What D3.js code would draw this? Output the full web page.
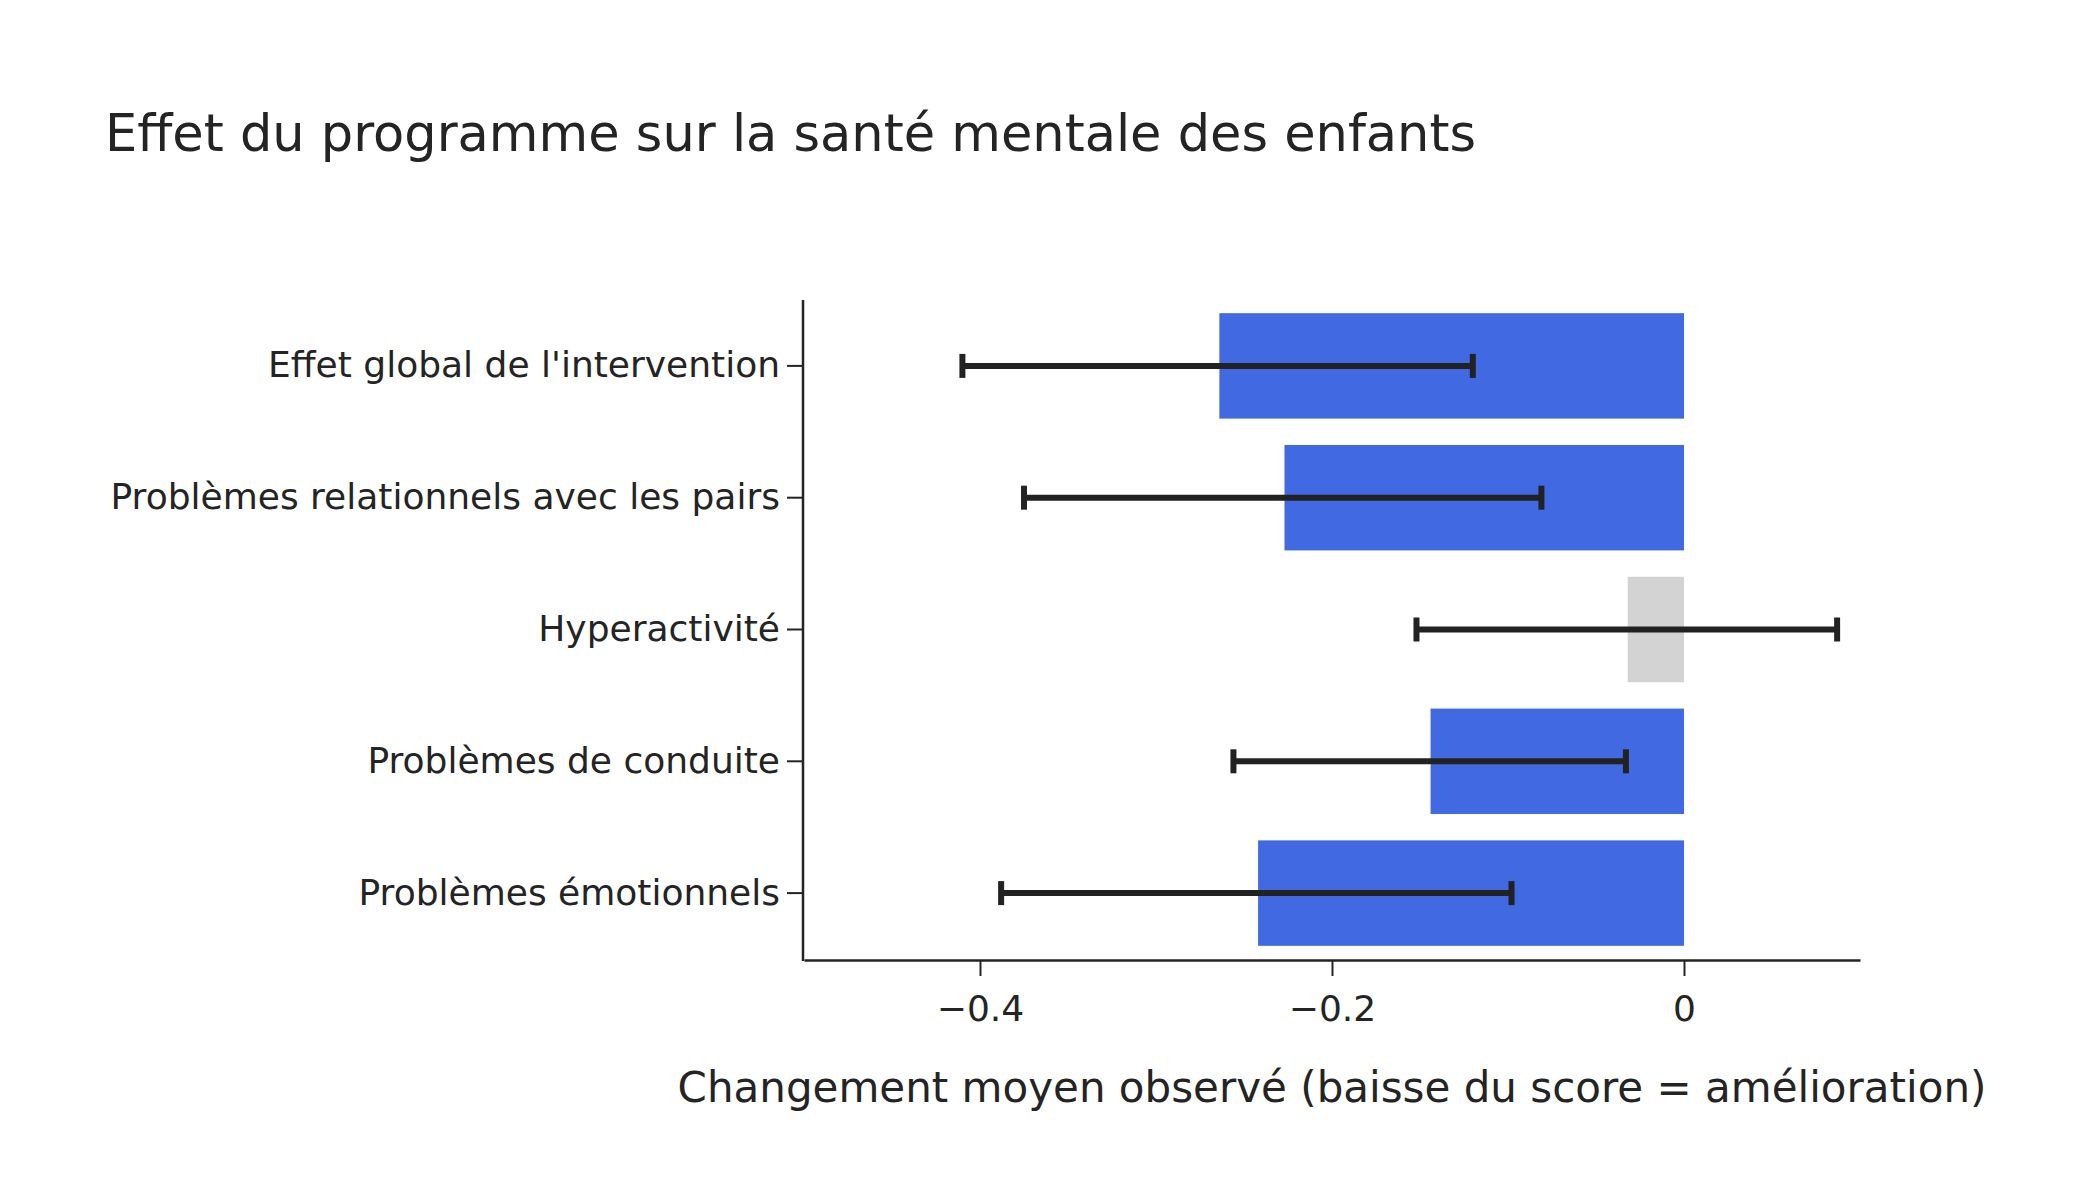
<!DOCTYPE html>
<html><head><meta charset="utf-8">
<script src="https://cdn.jsdelivr.net/npm/d3@7"></script>
<style>html,body{margin:0;padding:0;background:#fff;} svg{display:block;}</style>
</head><body>
<svg id="chart" width="2100" height="1200"></svg>
<script>
const categories = ["Effet global de l'intervention","Problèmes relationnels avec les pairs","Hyperactivité","Problèmes de conduite","Problèmes émotionnels"];
const meanChange = [-0.264, -0.227, -0.032, -0.144, -0.242];
const ciLower = [-0.410, -0.375, -0.152, -0.256, -0.388];
const ciUpper = [-0.120, -0.081, 0.087, -0.033, -0.098];
const xTicks = [-0.4, -0.2, 0];
const titleText = "Effet du programme sur la santé mentale des enfants";
const xTitleText = "Changement moyen observé (baisse du score = amélioration)";

const data = categories.map((c,i)=>({cat:c, mean:meanChange[i], lo:ciLower[i], hi:ciUpper[i]}));
const FONT = "'DejaVu Sans', Verdana, sans-serif";
const INK = "rgb(36,36,36)";
const svg = d3.select("#chart");
const L=804, R=1860, T=300, B=959;

const x = d3.scaleLinear().domain([-0.5,0.1]).range([L,R]);
const y = d3.scaleBand().domain(categories).range([T,B]).paddingInner(0.2).paddingOuter(0.1);

// title
svg.append("text").attr("x",105).attr("y",151).attr("font-family",FONT).attr("font-size",51)
  .attr("fill",INK).text(titleText);

// bars
svg.append("g").selectAll("rect").data(data).join("rect")
  .attr("x",d=>x(Math.min(0,d.mean))).attr("width",d=>Math.abs(x(d.mean)-x(0)))
  .attr("y",d=>y(d.cat)).attr("height",y.bandwidth())
  .attr("fill",d=> (d.hi<0 || d.lo>0) ? "#4169E1" : "#D3D3D3");

// error bars
const eb = svg.append("g").attr("stroke","#222").attr("stroke-width",6).attr("fill","none");
data.forEach(d=>{
  const cy = y(d.cat)+y.bandwidth()/2;
  eb.append("line").attr("x1",x(d.lo)).attr("x2",x(d.hi)).attr("y1",cy).attr("y2",cy);
  eb.append("line").attr("x1",x(d.lo)).attr("x2",x(d.lo)).attr("y1",cy-12).attr("y2",cy+12);
  eb.append("line").attr("x1",x(d.hi)).attr("x2",x(d.hi)).attr("y1",cy-12).attr("y2",cy+12);
});

// x axis
const fmt = v => v===0 ? "0" : (v<0 ? "\u2212"+d3.format(".1f")(-v) : d3.format(".1f")(v));
const xa = svg.append("g").attr("transform",`translate(0,${B+1})`)
  .call(d3.axisBottom(x).tickValues(xTicks).tickFormat(fmt).tickSize(16).tickSizeOuter(0).tickPadding(19));
xa.select(".domain").attr("stroke",INK).attr("stroke-width",2.5);
xa.selectAll(".tick line").attr("stroke",INK).attr("stroke-width",2);
xa.selectAll(".tick text").attr("font-family",FONT).attr("font-size",36).attr("fill",INK);

// y axis
const ya = svg.append("g").attr("transform",`translate(${L-1},0)`)
  .call(d3.axisLeft(y).tickSize(16).tickSizeOuter(0).tickPadding(7));
ya.select(".domain").attr("stroke",INK).attr("stroke-width",2.5).attr("d",`M0,${T}V${B+2}`);
ya.selectAll(".tick line").attr("stroke",INK).attr("stroke-width",2);
ya.selectAll(".tick text").attr("font-family",FONT).attr("font-size",36).attr("fill",INK);

// x title
svg.append("text").attr("x",(L+R)/2).attr("y",1102).attr("text-anchor","middle")
  .attr("font-family",FONT).attr("font-size",42).attr("fill",INK).text(xTitleText);
</script>
</body></html>
